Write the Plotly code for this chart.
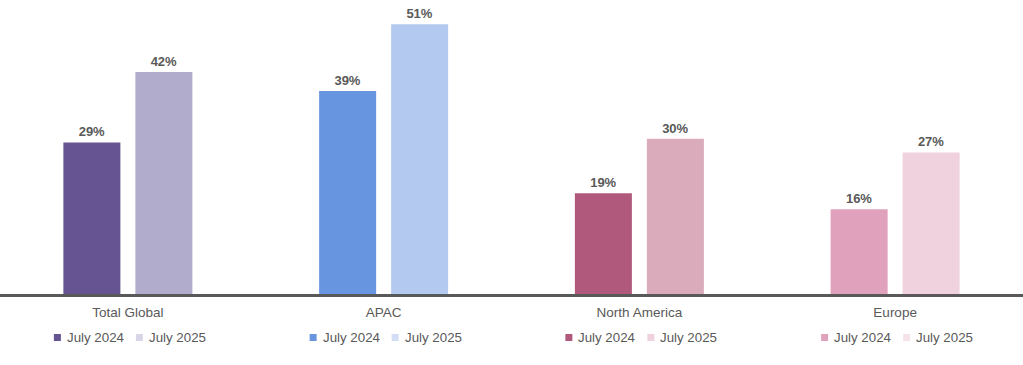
import plotly.graph_objects as go

categories = ["Total Global", "APAC", "North America", "Europe"]
series_names = ["July 2024", "July 2025"]
values_2024 = [28.6, 38.3, 19.0, 16.0]
values_2025 = [41.9, 50.9, 29.3, 26.7]
labels_2024 = ["29%", "39%", "19%", "16%"]
labels_2025 = ["42%", "51%", "30%", "27%"]
colors_2024 = ["#655491", "#6895E0", "#B0597C", "#E0A1BC"]
colors_2025 = ["#B1ACCB", "#B4C9F0", "#D9ABBB", "#F0D1DE"]
legend_colors_2024 = ["#655491", "#6895E0", "#B0597C", "#E0A1BC"]
legend_colors_2025 = ["#D9D5E8", "#D3DEF6", "#EFD2DE", "#F5E3EB"]

W, H = 1023, 365
PLOT_H = 294
FONT = "Liberation Sans, Arial, sans-serif"
GREY = "#595959"

fig = go.Figure()
fig.add_trace(go.Bar(
    x=categories, y=values_2024, name=series_names[0],
    marker=dict(color=colors_2024, line=dict(width=0)),
    text=labels_2024, textposition="outside", cliponaxis=False,
    textfont=dict(family=FONT, size=13, color=GREY, weight="bold"),
    showlegend=False,
))
fig.add_trace(go.Bar(
    x=categories, y=values_2025, name=series_names[1],
    marker=dict(color=colors_2025, line=dict(width=0)),
    text=labels_2025, textposition="outside", cliponaxis=False,
    textfont=dict(family=FONT, size=13, color=GREY, weight="bold"),
    showlegend=False,
))

# per-group legends
shapes = []
annotations = []
def py(pix):
    return (PLOT_H - pix) / PLOT_H
for i, cat in enumerate(categories):
    cx = (i + 0.5) * W / len(categories)
    items = [(-74, -63, legend_colors_2024[i], series_names[0]),
             (8, 19, legend_colors_2025[i], series_names[1])]
    for sx, tx, col, name in items:
        shapes.append(dict(type="rect", xref="paper", yref="paper",
                           x0=(cx + sx) / W, x1=(cx + sx + 7) / W,
                           y0=py(341), y1=py(334),
                           fillcolor=col, line=dict(width=0)))
        annotations.append(dict(xref="paper", yref="paper",
                                x=(cx + tx) / W, y=py(337.8),
                                xanchor="left", yanchor="middle",
                                text=name, showarrow=False,
                                font=dict(family=FONT, size=13.3, color=GREY)))

fig.update_layout(
    width=W, height=H,
    margin=dict(l=0, r=0, t=0, b=H - PLOT_H, pad=0),
    paper_bgcolor="white", plot_bgcolor="white",
    barmode="group", bargap=0.437, bargroupgap=0.208,
    showlegend=False,
    shapes=shapes, annotations=annotations,
    xaxis=dict(showline=True, linecolor=GREY, linewidth=3, ticks="",
               ticklabelstandoff=4,
               tickfont=dict(family=FONT, size=13.5, color=GREY),
               showgrid=False, zeroline=False),
    yaxis=dict(range=[0, PLOT_H / 5.3], visible=False, showgrid=False,
               zeroline=False),
)

fig.write_html(
    "out.html",
    config={"displayModeBar": False},
    post_script="document.body.style.margin='0';document.body.style.padding='0';document.body.style.overflow='hidden';",
)
